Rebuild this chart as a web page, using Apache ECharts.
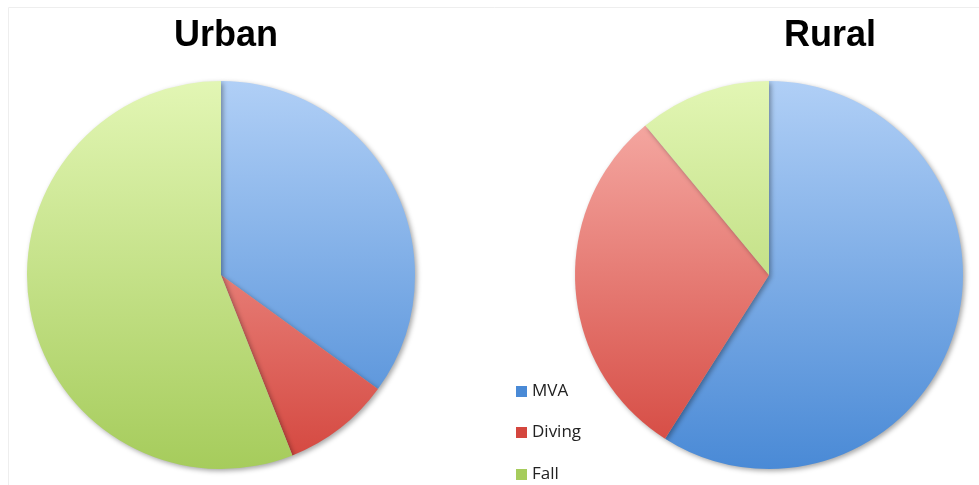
<!DOCTYPE html>
<html><head><meta charset="utf-8">
<script src="https://cdn.jsdelivr.net/npm/echarts@6/dist/echarts.min.js"></script>
<style>html,body{margin:0;padding:0;background:#fff}#c{width:979px;height:485px}</style>
</head><body><div id="c"></div>
<script>
const categories = ['MVA', 'Diving', 'Fall'];
const urbanValues = [35, 9, 56];
const ruralValues = [59, 30, 11];
const titles = ['Urban', 'Rural'];

const grads = {
  MVA: ['#b0cff6', '#4a8ad6'],
  Diving: ['#f8b2ac', '#d4463e'],
  Fall: ['#e2f6b4', '#a6cc5c']
};
function grad(name){
  return new echarts.graphic.LinearGradient(0, 82, 0, 468, [
    {offset: 0, color: grads[name][0]}, {offset: 1, color: grads[name][1]}], true);
}
function mk(vals){ return categories.map((c,i)=>({name:c, value:vals[i], itemStyle:{color:grad(c)}})); }
const chart = echarts.init(document.getElementById('c'));
const pieBase = {
  type:'pie', radius:194, startAngle:90, clockwise:true, label:{show:false}, labelLine:{show:false},
  silent:true, animation:false,
  itemStyle:{shadowBlur:5, shadowOffsetX:2, shadowOffsetY:2, shadowColor:'rgba(0,0,0,0.35)', borderWidth:0}
};
const legendTops = [378, 419, 461];
chart.setOption({
  animation:false,
  title:[
    {text:titles[0], left:221, top:13, textAlign:'center', textStyle:{fontFamily:'Liberation Sans', fontWeight:'bold', fontSize:36, color:'#000'}},
    {text:titles[1], left:825, top:13, textAlign:'center', textStyle:{fontFamily:'Liberation Sans', fontWeight:'bold', fontSize:36, color:'#000'}}
  ],
  legend: categories.map((c,i)=>({orient:'vertical', left:511, top:legendTops[i], itemWidth:11, itemHeight:11, icon:'rect',
    selectedMode:false,
    data:[{name:c, itemStyle:{color:grads[c][1]}}],
    textStyle:{fontFamily:'Open Sans', fontSize:17, color:'#222'}})),
  series:[
    Object.assign({}, pieBase, {name:titles[0], center:[221,275], data:mk(urbanValues)}),
    Object.assign({}, pieBase, {name:titles[1], center:[769,275], data:mk(ruralValues)})
  ],
  graphic:[{type:'rect', shape:{x:8.5, y:7.5, width:975, height:485}, style:{fill:'none', stroke:'#eeeeee', lineWidth:1}, silent:true}]
});
</script></body></html>
